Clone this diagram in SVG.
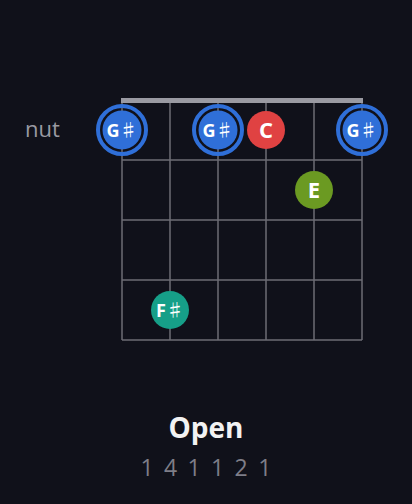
<svg xmlns="http://www.w3.org/2000/svg" width="412" height="504" viewBox="0 0 412 504">
<style>
.grid line{stroke:#6c6c74;stroke-width:1.5}
.dot{stroke:none}
.lbl{font-family:"Open Sans","Noto Sans","DejaVu Sans",sans-serif;font-weight:700;font-size:18px;fill:#ffffff;text-anchor:middle}
.big{font-size:22px}
.sh{font-family:"Noto Sans CJK SC","DejaVu Sans",sans-serif;font-weight:400;font-size:18px}
.ring{fill:none;stroke:#2f6fd8;stroke-width:4}
</style>
<rect width="412" height="504" fill="#10111a"/>
<g id="fretboard" class="grid">
<line x1="122" y1="100" x2="122" y2="340"/>
<line x1="170" y1="100" x2="170" y2="340"/>
<line x1="218" y1="100" x2="218" y2="340"/>
<line x1="266" y1="100" x2="266" y2="340"/>
<line x1="314" y1="100" x2="314" y2="340"/>
<line x1="362" y1="100" x2="362" y2="340"/>
<line x1="122" y1="160" x2="362" y2="160"/>
<line x1="122" y1="220" x2="362" y2="220"/>
<line x1="122" y1="280" x2="362" y2="280"/>
<line x1="122" y1="340" x2="362" y2="340"/>
</g>
<g id="nut"><rect x="121" y="98" width="242" height="5" fill="#9a9aa2"/></g>
<text x="42.5" y="137" font-family="'Open Sans','Noto Sans',sans-serif" font-size="22" fill="#9a9aa2" text-anchor="middle">nut</text>
<g id="connectors"></g>
<g id="n1"><circle class="ring" cx="122" cy="130" r="24"/><circle class="dot" cx="122" cy="130" r="19.5" fill="#2f6fd8"/><text class="lbl" x="122" y="136.5">G<tspan class="sh">♯</tspan></text></g>
<g id="n2"><circle class="ring" cx="218" cy="130" r="24"/><circle class="dot" cx="218" cy="130" r="19.5" fill="#2f6fd8"/><text class="lbl" x="218" y="136.5">G<tspan class="sh">♯</tspan></text></g>
<g id="n3"><circle class="dot" cx="266" cy="130" r="19" fill="#e04242"/><text class="lbl big" x="266" y="138">C</text></g>
<g id="n4"><circle class="ring" cx="362" cy="130" r="24"/><circle class="dot" cx="362" cy="130" r="19.5" fill="#2f6fd8"/><text class="lbl" x="362" y="136.5">G<tspan class="sh">♯</tspan></text></g>
<g id="n5"><circle class="dot" cx="314" cy="190" r="19" fill="#6b9a22"/><text class="lbl big" x="314" y="198">E</text></g>
<g id="n6"><circle class="dot" cx="170" cy="310" r="19" fill="#169f88"/><text class="lbl" x="170" y="317">F<tspan class="sh">♯</tspan></text></g>
<text x="206" y="438" font-family="'Open Sans','Noto Sans',sans-serif" font-weight="700" font-size="28" fill="#f2f2f2" text-anchor="middle">Open</text>
<text x="207" y="476" font-family="'Open Sans','Noto Sans',sans-serif" font-size="23" letter-spacing="2.2" fill="#7e7e88" text-anchor="middle">1 4 1 1 2 1</text>
</svg>
